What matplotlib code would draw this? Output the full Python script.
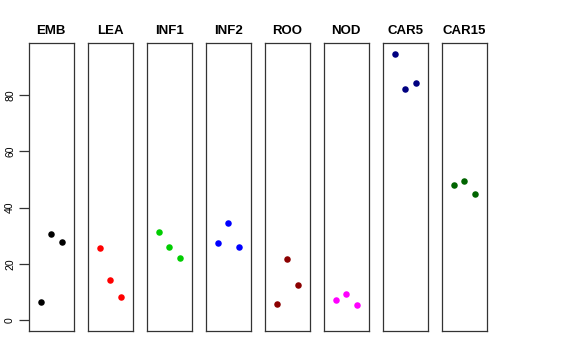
import numpy as np
import matplotlib.pyplot as plt

plt.rcParams['font.family'] = ['Liberation Sans', 'DejaVu Sans']

tissues = ["EMB", "LEA", "INF1", "INF2", "ROO", "NOD", "CAR5", "CAR15"]
colours = ["black", "red", "#00CD00", "blue", "#8B0000", "magenta", "#000080", "#006400"]

# three replicate values per tissue
EMB = [6.4, 30.5, 27.8]
LEA = [25.7, 14.2, 8.4]
INF1 = [31.2, 25.9, 22.0]
INF2 = [27.3, 34.4, 25.9]
ROO = [5.9, 21.7, 12.7]
NOD = [7.1, 9.5, 5.6]
CAR5 = [94.6, 82.0, 84.3]
CAR15 = [47.9, 49.6, 44.9]
values = [EMB, LEA, INF1, INF2, ROO, NOD, CAR5, CAR15]

top = max(max(v) for v in values)
pad = 0.04 * top

fig = plt.figure(figsize=(5.76, 3.6), dpi=100)
W, H = 576.0, 360.0
left0, pw, step = 29.0, 44.5, 59.0
ytop, ybot = 43.3, 331.0

for i, (name, col, vals) in enumerate(zip(tissues, colours, values)):
    ax = fig.add_axes([(left0 + i * step) / W, 1 - ybot / H, pw / W, (ybot - ytop) / H])
    x = np.arange(1, len(vals) + 1)
    ax.scatter(x, vals, s=22, color=col, zorder=3, linewidths=0)
    ax.set_xlim(-0.16, 4.16)
    ax.set_ylim(-pad, top + pad)
    ax.set_xticks([])
    ax.set_title(name, fontsize=9.5, fontweight='bold', pad=7)
    for sp in ax.spines.values():
        sp.set_linewidth(0.9)
        sp.set_color('#333333')
    if i == 0:
        ax.set_yticks([0, 20, 40, 60, 80])
        ax.tick_params(axis='y', length=7, width=0.9, color='#333333', labelsize=7.5, pad=3)
        for lab in ax.get_yticklabels():
            lab.set_rotation(90)
            lab.set_va('center')
    else:
        ax.set_yticks([])

fig.savefig("out.png", dpi=100)
